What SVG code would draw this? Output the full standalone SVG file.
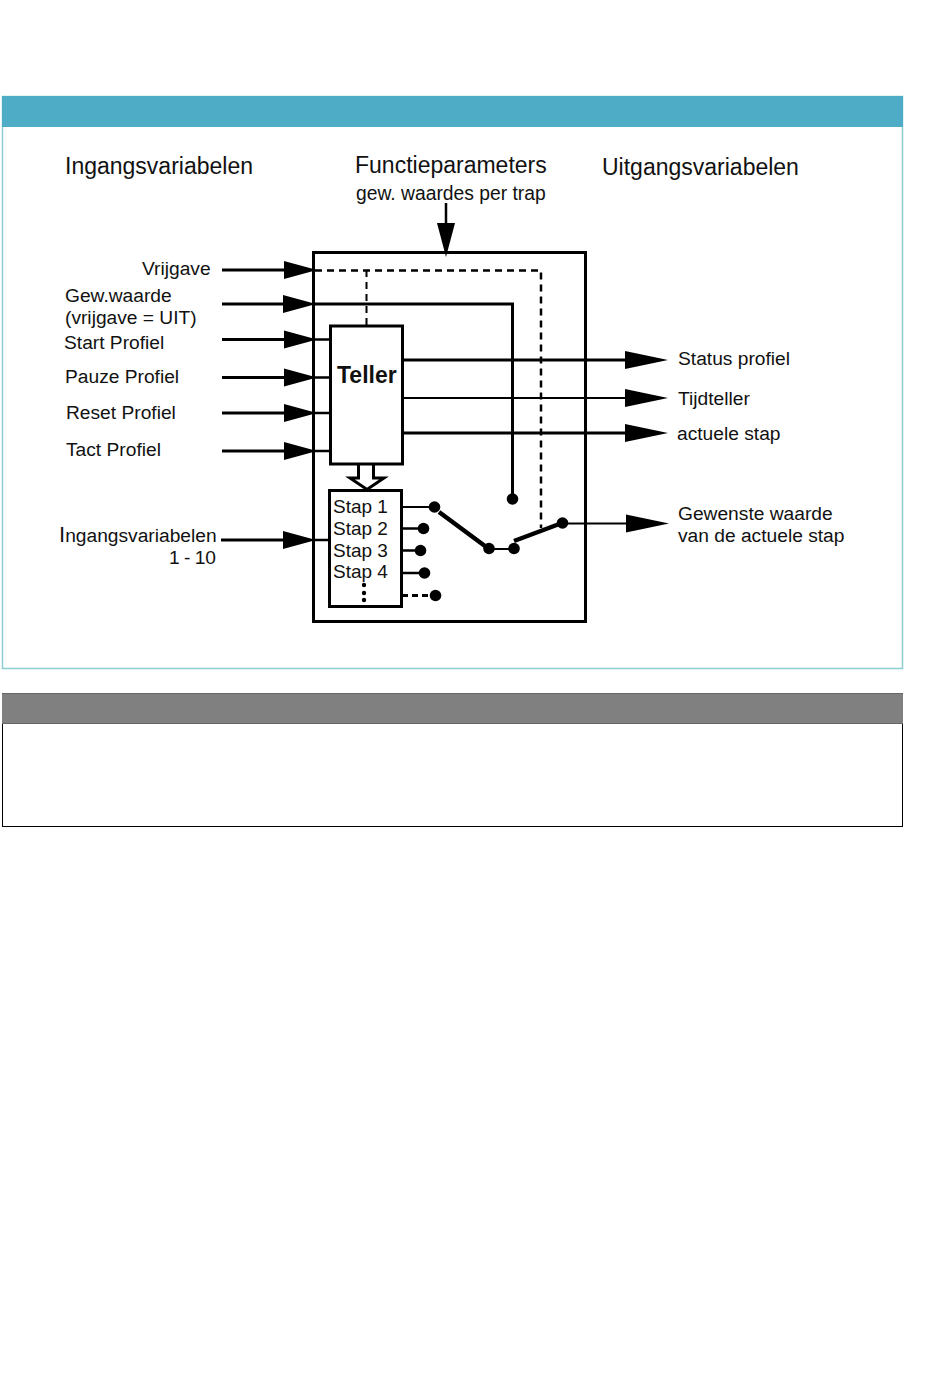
<svg xmlns="http://www.w3.org/2000/svg" width="950" height="1397" viewBox="0 0 950 1397">
<defs><style>
text{font-family:"Liberation Sans",Arial,sans-serif;fill:#111}
.big{font-size:23px}.mid{font-size:19.2px}.st{font-size:19px}
.l{fill:none;stroke:#000;stroke-width:3}
.t{fill:none;stroke:#000;stroke-width:2.500}
.box{fill:#fff;stroke:#000;stroke-width:3}
.a{fill:#000}
</style>
<polygon id="ah" points="0,-9 33,0 0,9" class="a"/>
<polygon id="ar" points="0,-9 43,0 0,9" class="a"/>
<circle id="dot" r="5.800" class="a"/>
</defs>
<rect width="950" height="1397" fill="#fff"/>
<g id="panel-top">
<rect x="2.500" y="96.500" width="900" height="572" fill="#fff" stroke="#8ccdd0" stroke-width="1.500"/>
<rect x="2" y="96" width="901" height="31" fill="#4eacc6"/>
</g>
<g id="panel-bottom">
<rect x="2.500" y="693.500" width="900" height="133" fill="#fff" stroke="#000"/>
<rect x="2" y="693" width="901" height="31" fill="#808080"/>
<path d="M2 693.500H903M2 723.500H903" stroke="#666" fill="none"/>
</g>
<g id="headings">
<text class="big" x="65" y="174">Ingangsvariabelen</text>
<text class="big" x="355" y="173">Functieparameters</text>
<text class="mid" x="356" y="200" style="font-size:19.3px">gew. waardes per trap</text>
<text class="big" x="602" y="175">Uitgangsvariabelen</text>
</g>
<g id="main-box"><rect x="313.500" y="252.500" width="272" height="369" fill="#fff" stroke="#000" stroke-width="3"/></g>
<g id="connectors">
<path class="t" d="M446 203V224"/><polygon class="a" points="437,223 455,223 446,257"/>
<path class="l" d="M222 270H286"/><use href="#ah" x="284" y="270"/>
<path class="l" d="M222 304H286"/><use href="#ah" x="283" y="304"/>
<path class="l" d="M222 339.500H286"/><use href="#ah" x="284" y="339.500"/>
<path class="l" d="M222 377.500H286"/><use href="#ah" x="284" y="377.500"/>
<path class="l" d="M222 413H286"/><use href="#ah" x="284" y="413"/>
<path class="l" d="M222 451H286"/><use href="#ah" x="284" y="451"/>
<path class="l" d="M221 540H286"/><use href="#ah" x="283" y="540"/>
<path d="M315 270.500H541V528" fill="none" stroke="#000" stroke-width="2.500" stroke-dasharray="7 5"/>
<path d="M366.500 270V328" fill="none" stroke="#000" stroke-width="2" stroke-dasharray="7 5"/>
<path d="M314 304H512.500V498" fill="none" stroke="#000" stroke-width="3"/>
<path class="t" d="M314 339.500H331M314 377.500H331M314 413H331M314 451H331M314 540H330"/>
<path d="M402 360H630" fill="none" stroke="#000" stroke-width="3.200"/><use href="#ar" x="625" y="360"/>
<path class="t" d="M402 398H630" style="stroke-width:2"/><use href="#ar" x="625" y="398"/>
<path class="l" d="M402 433H630"/><use href="#ar" x="625" y="433"/>
<path class="t" d="M562 523.500H630" style="stroke-width:2"/><use href="#ar" x="626" y="523.500"/>
<path d="M358.500 464V478H350L367 489.500L384 478H373.500V464" fill="#fff" stroke="#000" stroke-width="3"/>
</g>
<g id="teller"><rect x="330.500" y="326" width="72" height="138" class="box"/>
<text x="337" y="383" font-weight="700" style="font-size:23px">Teller</text></g>
<g id="stappen"><rect x="329.500" y="490.500" width="72" height="116" class="box"/>
<text class="st" x="333" y="513">Stap 1</text>
<text class="st" x="333" y="535">Stap 2</text>
<text class="st" x="333" y="557">Stap 3</text>
<text class="st" x="333" y="578">Stap 4</text>
<circle cx="364" cy="585" r="2.200" class="a"/><circle cx="364" cy="593" r="2.200" class="a"/><circle cx="364" cy="600" r="2.200" class="a"/>
</g>
<g id="switch">
<path d="M401 507H434M489 549H514" fill="none" stroke="#000" stroke-width="2"/>
<path class="t" d="M401 528.500H423M401 550.500H420M401 573H424"/>
<path d="M402 595.500H430" fill="none" stroke="#000" stroke-width="3" stroke-dasharray="6 4"/>
<path d="M439 512L489 549M514 541L562 523" fill="none" stroke="#000" stroke-width="4.500"/>
<use href="#dot" x="434.500" y="507"/><use href="#dot" x="423.500" y="528.500"/><use href="#dot" x="420.500" y="550.500"/><use href="#dot" x="424.500" y="573"/><use href="#dot" x="435.500" y="595.500"/>
<use href="#dot" x="489" y="548.500"/><use href="#dot" x="514" y="548.500"/><use href="#dot" x="562.500" y="523"/><use href="#dot" x="512.500" y="499"/>
</g>
<g id="labels">
<text class="mid" x="142" y="275">Vrijgave</text>
<text class="mid" x="65" y="302">Gew.waarde</text>
<text class="mid" x="65" y="324">(vrijgave = UIT)</text>
<text class="mid" x="64" y="349">Start Profiel</text>
<text class="mid" x="65" y="383">Pauze Profiel</text>
<text class="mid" x="66" y="419">Reset Profiel</text>
<text class="mid" x="66" y="456">Tact Profiel</text>
<text class="mid" x="59" y="542"><tspan style="font-size:22px">I</tspan>ngangsvariabelen</text>
<text class="mid" x="216" y="564" text-anchor="end" word-spacing="-1">1 - 10</text>
<text class="mid" x="678" y="365">Status profiel</text>
<text class="mid" x="678" y="405">Tijdteller</text>
<text class="mid" x="677" y="440">actuele stap</text>
<text class="mid" x="678" y="520">Gewenste waarde</text>
<text class="mid" x="678" y="542">van de actuele stap</text>
</g>
</svg>
